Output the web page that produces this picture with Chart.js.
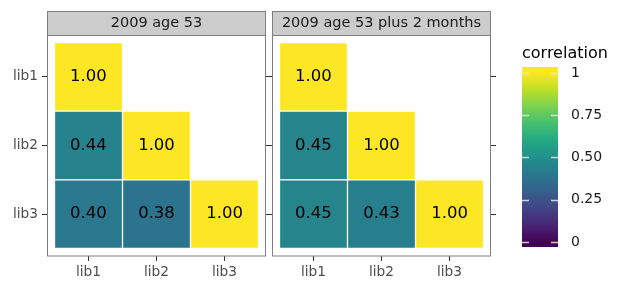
<!DOCTYPE html>
<html>
<head>
<meta charset="utf-8">
<script src="https://cdn.jsdelivr.net/npm/chart.js@4"></script>
<style>
  body { margin: 0; background: #fff; width: 626px; height: 292px; position: relative; overflow: hidden; }
  canvas { position: absolute; top: 0; }
</style>
</head>
<body>
<canvas id="panel1" width="275" height="292" style="left:0"></canvas>
<canvas id="panel2" width="234" height="292" style="left:266px"></canvas>
<canvas id="legend" width="126" height="292" style="left:500px"></canvas>
<script>
// categories
const libs = ['lib1', 'lib2', 'lib3'];
const panelTitles = ['2009 age 53', '2009 age 53 plus 2 months'];

// lower triangle of each correlation matrix, row by row
const corrAge53 = [[1.00], [0.44, 1.00], [0.40, 0.38, 1.00]];
const corrAge53Plus2 = [[1.00], [0.45, 1.00], [0.45, 0.43, 1.00]];

// colourbar ticks
const legendTicks = [0, 0.25, 0.5, 0.75, 1];
const legendTickLabels = ['0', '0.25', '0.50', '0.75', '1'];

// viridis palette, evenly spaced 0..1
const viridis = ['#440154', '#482576', '#414487', '#35608d', '#2a788e', '#21908c',
                 '#22a884', '#43bf71', '#7ad151', '#bbdf27', '#fde725'];

const font = '"DejaVu Sans", sans-serif';

let hexToRgb = h => [1, 3, 5].map(i => parseInt(h.substr(i, 2), 16));
let colorFor = v => {
    let t = Math.max(0, Math.min(1, v)) * (viridis.length - 1);
    let i = Math.min(Math.floor(t), viridis.length - 2);
    let f = t - i;
    let a = hexToRgb(viridis[i]), b = hexToRgb(viridis[i + 1]);
    let c = a.map((x, k) => Math.round(x + (b[k] - x) * f));
    return `rgb(${c[0]},${c[1]},${c[2]})`;
};

// frame + strip + cell labels
const panelDecor = {
    id: 'panelDecor',
    afterDraw(chart, args, opts) {
        const { ctx, chartArea: a } = chart;
        ctx.save();
        ctx.fillStyle = '#cccccc';
        ctx.fillRect(a.left, 11, a.right - a.left, a.top - 11);
        ctx.strokeStyle = '#7f7f7f';
        ctx.lineWidth = 1;
        ctx.strokeRect(a.left + 0.5, 11.5, a.right - a.left - 1, a.bottom - 11.5);
        ctx.beginPath();
        ctx.moveTo(a.left, a.top + 0.5);
        ctx.lineTo(a.right, a.top + 0.5);
        ctx.stroke();
        ctx.fillStyle = '#1a1a1a';
        ctx.font = `14.5px ${font}`;
        ctx.textAlign = 'center';
        ctx.textBaseline = 'middle';
        ctx.fillText(opts.title, (a.left + a.right) / 2, 23);
        // values on tiles
        ctx.fillStyle = '#000';
        ctx.font = `16.5px ${font}`;
        chart.getDatasetMeta(0).data.forEach((el, i) => {
            let v = chart.data.datasets[0].data[i].v;
            ctx.fillText(v.toFixed(2), el.x, (el.y + el.base) / 2);
        });
        ctx.restore();
    }
};

let catTicks = s => { s.ticks = libs.map((_, i) => ({ value: i })); };

let makePanel = (id, title, matrix, showLabels) => {
    let points = [];
    matrix.forEach((row, r) => row.forEach((v, c) => {
        points.push({ x: c, y: [r - 0.5, r + 0.5], v: v });
    }));
    let tickFont = { family: font, size: 13.7 };
    let tickGrid = { drawOnChartArea: false, tickLength: 5, color: '#333333', offset: false };
    new Chart(document.getElementById(id), {
        type: 'bar',
        data: {
            datasets: [{
                data: points,
                backgroundColor: points.map(p => colorFor(p.v)),
                borderColor: '#ffffff',
                borderWidth: 1,
                borderSkipped: false,
                barPercentage: 1,
                categoryPercentage: 1
            }]
        },
        options: {
            responsive: false,
            animation: false,
            devicePixelRatio: 1,
            layout: { padding: { top: 35, left: 0, right: 0, bottom: 0 } },
            plugins: { legend: { display: false }, tooltip: { enabled: false }, panelDecor: { title: title } },
            scales: {
                x: {
                    type: 'linear', min: -0.61, max: 2.61, offset: false,
                    afterBuildTicks: catTicks,
                    afterFit: s => { s.height = 36; },
                    ticks: { callback: v => libs[v], font: tickFont, color: '#4d4d4d', padding: 3, maxRotation: 0, autoSkip: false },
                    grid: tickGrid,
                    border: { display: false }
                },
                y: {
                    type: 'linear', reverse: true, min: -0.61, max: 2.61, position: 'left',
                    afterBuildTicks: catTicks,
                    afterFit: s => { s.width = showLabels ? 47 : 6; },
                    ticks: { display: showLabels, callback: v => libs[v], font: tickFont, color: '#4d4d4d', padding: 4 },
                    grid: tickGrid,
                    border: { display: false }
                },
                yRight: {
                    type: 'linear', reverse: true, min: -0.61, max: 2.61, position: 'right',
                    afterBuildTicks: catTicks,
                    afterFit: s => { s.width = 9; },
                    ticks: { display: false },
                    grid: tickGrid,
                    border: { display: false }
                }
            }
        },
        plugins: [panelDecor]
    });
};

makePanel('panel1', panelTitles[0], corrAge53, true);
makePanel('panel2', panelTitles[1], corrAge53Plus2, false);

// colourbar
const colorbar = {
    id: 'colorbar',
    beforeDraw(chart) {
        const { ctx, chartArea: a } = chart;
        const y = chart.scales.y;
        ctx.save();
        let g = ctx.createLinearGradient(0, y.getPixelForValue(0), 0, y.getPixelForValue(1));
        viridis.forEach((c, i) => g.addColorStop(i / (viridis.length - 1), c));
        ctx.fillStyle = g;
        ctx.fillRect(a.left, a.top, a.right - a.left, a.bottom - a.top);
        ctx.strokeStyle = 'rgba(230,230,230,0.85)';
        ctx.lineWidth = 1.5;
        legendTicks.forEach(t => {
            let py = Math.round(y.getPixelForValue(t)) + 0.5;
            ctx.beginPath();
            ctx.moveTo(a.left, py); ctx.lineTo(a.left + 7, py);
            ctx.moveTo(a.right - 7, py); ctx.lineTo(a.right, py);
            ctx.stroke();
        });
        ctx.fillStyle = '#000';
        ctx.font = `16px ${font}`;
        ctx.textAlign = 'left';
        ctx.textBaseline = 'alphabetic';
        ctx.fillText('correlation', a.left, 58);
        ctx.restore();
    }
};

new Chart(document.getElementById('legend'), {
    type: 'bar',
    data: { datasets: [] },
    options: {
        responsive: false,
        animation: false,
        devicePixelRatio: 1,
        layout: { padding: { top: 67, left: 22, right: 0, bottom: 45 } },
        plugins: { legend: { display: false }, tooltip: { enabled: false } },
        scales: {
            x: { display: false },
            y: {
                type: 'linear', position: 'right', min: -0.0296, max: 1.0355,
                afterBuildTicks: s => { s.ticks = legendTicks.map(v => ({ value: v })); },
                afterFit: s => { s.width = 68; },
                ticks: { callback: (v, i) => legendTickLabels[i], font: { family: font, size: 14 }, color: '#1a1a1a', padding: 5 },
                grid: { display: false },
                border: { display: false }
            }
        }
    },
    plugins: [colorbar]
});
</script>
</body>
</html>
